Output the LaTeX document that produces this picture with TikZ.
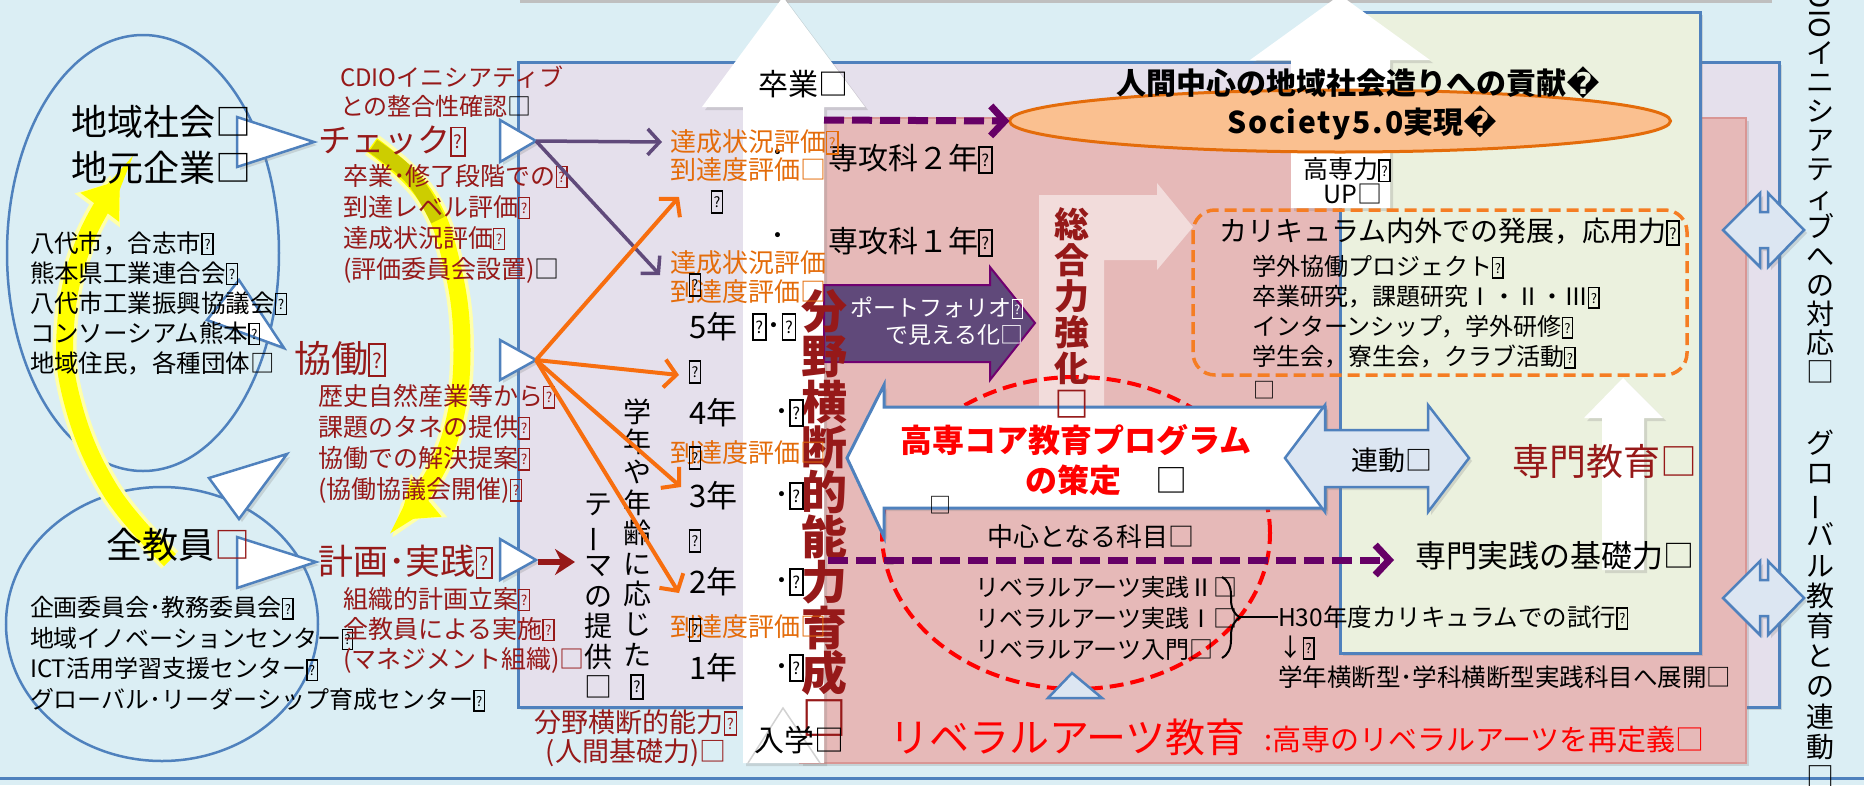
\documentclass[tikz,border=0pt]{standalone}
\usepackage{fontspec}
\usepackage{graphicx}
\setmainfont{Noto Sans CJK JP}
\newfontfamily\djv{DejaVu Sans}
\usetikzlibrary{arrows.meta,decorations.pathreplacing,shadows,shapes.geometric}
\definecolor{bgblue}{RGB}{219,238,244}
\definecolor{lav}{RGB}{229,224,236}
\definecolor{pinkbox}{RGB}{230,185,184}
\definecolor{pinkedge}{RGB}{217,150,148}
\definecolor{greenbox}{RGB}{235,241,222}
\definecolor{bord}{RGB}{79,129,189}
\definecolor{ellfill}{RGB}{250,192,144}
\definecolor{ellline}{RGB}{228,108,10}
\definecolor{dred}{RGB}{150,25,25}
\definecolor{otext}{RGB}{228,108,10}
\definecolor{oarrow}{RGB}{247,110,15}
\definecolor{parrow}{RGB}{96,74,123}
\definecolor{pdash}{RGB}{102,0,102}
\definecolor{pfill}{RGB}{96,73,122}
\definecolor{pedge}{RGB}{112,0,112}
\definecolor{lpink}{RGB}{242,220,219}
\definecolor{lblue}{RGB}{220,230,242}
\definecolor{yel}{RGB}{255,255,0}
\definecolor{yelglow}{RGB}{255,255,170}
\definecolor{yelshade}{RGB}{205,205,0}
\definecolor{odash}{RGB}{245,125,35}
\newcommand\fs[2]{\fontsize{#1}{#2}\selectfont}
\newcommand\qb{{\fboxsep=0pt\fboxrule=0.055em\raisebox{-0.04em}{\fbox{\makebox[0.38em]{\rule[-0.04em]{0pt}{0.8em}\raisebox{0.14em}{\scalebox{0.55}{?}}}}}}}
\newcommand\vbar{\rotatebox[origin=c]{90}{ー}}
\begin{document}
\begin{tikzpicture}[x=1pt,y=-1pt,
  every node/.style={inner sep=0pt,outer sep=0pt},
  tri/.style={draw=bord, fill=white, line width=2.5pt, line join=miter},
  bluebox/.style={draw=bord, line width=3pt},
  lt/.style={anchor=west, align=left},
  vt/.style={align=center},
  parr/.style={draw=parrow, line width=3.5pt, -{Straight Barb[length=12pt,width=26pt]}},
  oarr/.style={draw=oarrow, line width=4pt, -{Straight Barb[length=12pt,width=28pt]}},
  pdarr/.style={draw=pdash, line width=7pt, dash pattern=on 20pt off 8pt, -{Straight Barb[length=14pt,width=30pt]}},
  yglow/.style={draw=yelglow, line width=24pt, -{Triangle[length=38pt,width=54pt]}},
  ymain/.style={draw=yel, line width=17pt, -{Triangle[length=34pt,width=46pt]}},
  shade/.style={drop shadow={shadow xshift=3pt, shadow yshift=-3pt, opacity=0.25}}
]
\fill[bgblue] (0,0) rectangle (1864,785);
\useasboundingbox (0,0) rectangle (1864,785);
\draw[bord, line width=3pt] (0,778) -- (1864,778);
\fill[gray!50] (520,0) rectangle (1772,3);

% left ellipse and circle
\node[ellipse, draw=bord, line width=2.5pt, minimum width=272pt, minimum height=436pt] (ell) at (143,253) {};
\node[ellipse, draw=bord, line width=2.5pt, minimum width=312pt, minimum height=274pt] (circ) at (162,624) {};

% yellow arrows
\draw[yglow] plot[smooth, tension=0.7] coordinates {(170,560) (110,490) (72,400) (66,320) (85,240) (120,180)};
\draw[ymain] plot[smooth, tension=0.7] coordinates {(170,560) (110,490) (72,400) (66,320) (85,240) (120,180)};
\draw[yglow] plot[smooth, tension=0.7] coordinates {(372,145) (425,195) (452,265) (462,350) (452,430) (425,490) (400,520)};
\draw[ymain] plot[smooth, tension=0.7] coordinates {(372,145) (425,195) (452,265) (462,350) (452,430) (425,490) (400,520)};
\draw[yelshade, line width=15pt] plot[smooth, tension=0.7] coordinates {(373,146) (412,178) (438,220)};

% boxes
\draw[bluebox, fill=lav, shade] (518,62) rectangle (1779,707);
\filldraw[fill=pinkbox, draw=pinkedge, line width=1.5pt, shade] (800,118) rectangle (1746,763);
\draw[bluebox, fill=greenbox, shade] (1340,12) rectangle (1700,653);

% bent arrow behind 総合力強化
\fill[lpink] (1039,420) -- (1039,195) -- (1157,195) -- (1157,183) -- (1193,227) -- (1157,270) -- (1157,260) -- (1104,260) -- (1104,420) -- cycle;

% spine arrow
\fill[white, shade] (743,763) -- (743,107) -- (702,107) -- (783,-3) -- (865,107) -- (824,107) -- (824,763) -- cycle;
\draw[gray!35, line width=1.5pt] (748,763) -- (783,708) -- (820,763);

% 高専力UP arrow
\fill[white, shade] (1291,208) -- (1291,60) -- (1250,60) -- (1340,-5) -- (1430,60) -- (1390,60) -- (1390,208) -- cycle;

% orange ellipse
\node[ellipse, draw=ellline, fill=ellfill, line width=3pt, minimum width=661pt, minimum height=62pt] (soc) at (1340,121) {};

% dashed rounded box
\draw[odash, line width=3.5pt, dash pattern=on 12pt off 6pt, rounded corners=22pt] (1193,210) rectangle (1687,375);

% white up arrow in green box
\fill[white, shade] (1602,570) -- (1602,418) -- (1584,418) -- (1623,378) -- (1663,418) -- (1644,418) -- (1644,570) -- cycle;

% red dashed circle
\node[ellipse, draw=red, line width=4pt, dash pattern=on 14pt off 7pt, minimum width=388pt, minimum height=312pt] (core) at (1076,533) {};

% portfolio arrow
\filldraw[fill=pfill, draw=pedge, line width=2pt] (824,285) -- (990,285) -- (990,267) -- (1035,323) -- (990,380) -- (990,362) -- (824,362) -- cycle;

% 高専コア arrow
\draw[tri, line width=3pt, shade] (847,458) -- (884,385) -- (884,407) -- (1325,407) -- (1325,508) -- (884,508) -- (884,537) -- cycle;

% 連動 arrow
\draw[tri, fill=lblue, shade] (1285,458) -- (1325,405) -- (1325,430) -- (1428,430) -- (1428,405) -- (1469,458) -- (1428,512) -- (1428,487) -- (1325,487) -- (1325,512) -- cycle;

% right double arrows
\draw[tri, fill=lblue, shade] (1723,230) -- (1760,193) -- (1760,212) -- (1768,212) -- (1768,193) -- (1804,230) -- (1768,267) -- (1768,248) -- (1760,248) -- (1760,267) -- cycle;
\draw[tri, fill=lblue, shade] (1723,598) -- (1760,561) -- (1760,580) -- (1768,580) -- (1768,561) -- (1804,598) -- (1768,635) -- (1768,616) -- (1760,616) -- (1760,635) -- cycle;

% small triangle under circle
\draw[tri, fill=lblue] (1072,673) -- (1102,698) -- (1048,698) -- cycle;

% process triangles
\draw[tri, shade] (237,117) -- (237,167) -- (314,142) -- cycle;
\draw[tri, shade] (239,280) -- (207,320) -- (284,348) -- cycle;
\draw[tri, shade] (209,478) -- (287,454) -- (239,519) -- cycle;
\draw[tri, shade] (237,537) -- (237,588) -- (316,562) -- cycle;
\draw[tri, shade] (500,120) -- (500,162) -- (536,141) -- cycle;
\draw[tri, shade] (500,340) -- (500,380) -- (536,360) -- cycle;
\draw[tri, shade] (500,539) -- (500,580) -- (536,560) -- cycle;

% ---------- texts ----------
\node[font=\fs{36}{40}] (chiiki) at (161,122) {地域社会□};
\node[font=\fs{36}{40}] (jimoto) at (161,168) {地元企業□};
\node[lt, font=\fs{24.5}{30}] (elist) at (30,303) {八代市，合志市\qb\\熊本県工業連合会\qb\\八代市工業振興協議会\qb\\コンソーシアム熊本\qb\\地域住民，各種団体□};
\node[font=\fs{36}{40}] (zenkyo) at (178,545) {全教員{\color{dred}□}};
\node[lt, font=\fs{24}{30.7}] (clist) at (30,654) {企画委員会･教務委員会\qb\\地域イノベーションセンター\qb\\ICT活用学習支援センター\qb\\グローバル･リーダーシップ育成センター\qb};

\node[lt, text=dred, font=\fs{24}{29}] (cdiochk) at (340,91.5) {CDIOイニシアティブ\\との整合性確認{\color{black}□}};
\node[anchor=west, text=dred, font=\fs{33}{36}] (check) at (318,141) {チェック\qb};
\node[lt, text=dred, font=\fs{25}{31}] (chksub) at (343,223.5) {卒業･修了段階での\qb\\到達レベル評価\qb\\達成状況評価\qb\\(評価委員会設置){\color{black}□}};
\node[anchor=west, text=dred, font=\fs{37}{40}] (kyodo) at (294,359) {協働\qb};
\node[lt, text=dred, font=\fs{25}{31}] (kyosub) at (318,443.5) {歴史自然産業等から\qb\\課題のタネの提供\qb\\協働での解決提案\qb\\(協働協議会開催)\qb};
\node[anchor=west, text=dred, font=\fs{35}{40}] (keikaku) at (318,562) {計画･実践\qb};
\node[lt, text=dred, font=\fs{25}{30}] (keisub) at (343,630) {組織的計画立案\qb\\全教員による実施\qb\\(マネジメント組織)□};
\node[vt, text=dred, font=\fs{27}{29}] (bunya) at (636,738) {分野横断的能力\qb\\(人間基礎力)□};

% vertical texts
\node[vt, font=\fs{28}{30.4}] (gakunen) at (637,549) {学\\年\\や\\年\\齢\\に\\応\\じ\\た\\\qb};
\node[vt, font=\fs{28}{30.5}] (theme) at (598,596) {テ\\\vbar\\マ\\の\\提\\供\\□};
\node[vt, text=dred, font=\bfseries\fs{46}{45.2}] (spine) at (824,513) {分\\野\\横\\断\\的\\能\\力\\育\\成\\□};
\node[vt, text=dred, font=\bfseries\fs{35}{36}] (sogo) at (1072,313) {総\\合\\力\\強\\化\\□};
\node[vt, font=\fs{28}{29}] (cdio) at (1820,212) {イ\\ニ\\シ\\ア\\テ\\ィ\\ブ\\へ\\の\\対\\応\\□};
\node[font=\fs{28}{30}, rotate=-90, anchor=east] (cdiolat) at (1820,38) {CDIO};
\node[vt, font=\fs{28}{30.2}] (glob) at (1820,609) {グ\\ロ\\\vbar\\バ\\ル\\教\\育\\と\\の\\連\\動\\□};

% year column
\node[font=\fs{30}{34}] (sotsu) at (803,84) {卒業□};
\node[font=\fs{30}{34}] (nyu) at (799,740) {入学□};
\node[font=\fs{30}{34}] at (778,157) {･};
\node[font=\fs{30}{34}] at (778,240) {･};
\node[anchor=west, font=\fs{30}{34}] (sen2) at (828,159) {専攻科２年\qb};
\node[anchor=west, font=\fs{30}{34}] (sen1) at (828,242) {専攻科１年\qb};
\node[anchor=west, text=otext, font=\fs{26}{28}] (ev1a) at (670,142) {達成状況評価\qb};
\node[anchor=west, text=otext, font=\fs{26}{28}] (ev1b) at (670,170) {到達度評価□};
\node[font=\fs{26}{28}] at (717,202) {\qb};
\node[anchor=west, text=otext, font=\fs{26}{28}] (ev2a) at (670,263) {達成状況評価};
\node[anchor=west, text=otext, font=\fs{26}{28}] (ev2b) at (670,292) {到達度評価□};
\node[font=\fs{26}{28}] at (695,285) {\qb};
\node[anchor=west, font=\fs{31}{34}] (y5) at (689,327) {5年};
\node[anchor=west, font=\fs{30}{34}] at (752,327) {\qb･\qb};
\node[font=\fs{26}{28}] at (695,372) {\qb};
\node[anchor=west, font=\fs{31}{34}] (y4) at (689,413) {4年};
\node[anchor=west, font=\fs{30}{34}] at (774,413) {･\qb};
\node[anchor=west, text=otext, font=\fs{26}{28}] (ev3) at (670,453) {到達度評価□};
\node[font=\fs{26}{28}] at (695,458) {\qb};
\node[anchor=west, font=\fs{31}{34}] (y3) at (689,496) {3年};
\node[anchor=west, font=\fs{30}{34}] at (774,496) {･\qb};
\node[font=\fs{26}{28}] at (695,541) {\qb};
\node[anchor=west, font=\fs{31}{34}] (y2) at (689,582) {2年};
\node[anchor=west, font=\fs{30}{34}] at (774,582) {･\qb};
\node[anchor=west, text=otext, font=\fs{26}{28}] (ev4) at (670,627) {到達度評価□};
\node[font=\fs{26}{28}] at (695,630) {\qb};
\node[anchor=west, font=\fs{31}{34}] (y1) at (689,668) {1年};
\node[anchor=west, font=\fs{30}{34}] at (774,668) {･\qb};

% central / right texts
\node[font=\bfseries\fs{30}{34}] (contrib) at (1358,83) {人間中心の地域社会造りへの貢献{\djv �}};
\node[font=\bfseries\fs{30}{34}] (soc5) at (1362,123) {{\addfontfeature{LetterSpace=6}Society5.0}実現{\djv �}};
\node[font=\fs{25}{28}] (kup1) at (1347,170) {高専力\qb};
\node[font=\fs{25}{28}] (kup2) at (1353,194) {UP□};
\node[anchor=west, font=\fs{28}{32}] (curr) at (1219,232) {カリキュラム内外での発展，応用力\qb};
\node[lt, font=\fs{24}{30}] (items) at (1252,312) {学外協働プロジェクト\qb\\卒業研究，課題研究Ⅰ・Ⅱ・Ⅲ\qb\\インターンシップ，学外研修\qb\\学生会，寮生会，クラブ活動\qb};
\node[font=\fs{22}{24}] at (1264,390) {□};
\node[anchor=east, align=right, text=white, font=\fs{23}{27}] (port) at (1023,321) {ポートフォリオ\qb\\で見える化□};
\node[text=red, font=\bfseries\fs{32}{40}] (core1) at (1076,440) {高専コア教育プログラム};
\node[anchor=west, text=red, font=\bfseries\fs{32}{40}] (core2) at (1025,480) {の策定};
\node[font=\fs{32}{36}] at (1171,480) {□};
\node[font=\fs{22}{24}] at (940,505) {□};
\node[font=\fs{9}{10}] at (890,561) {□};
\node[font=\fs{27}{30}] (rendo) at (1392,460) {連動□};
\node[text=dred, font=\fs{37}{40}] (senmon) at (1605,461) {専門教育□};
\node[font=\fs{31}{34}] (kiso) at (1555,556) {専門実践の基礎力□};
\node[font=\fs{26}{30}] (chushin) at (1091,537) {中心となる科目□};
\node[lt, font=\fs{24}{31}] (lalist) at (975,618) {リベラルアーツ実践Ⅱ□\\リベラルアーツ実践Ⅰ□\\リベラルアーツ入門□};
\node[lt, font=\fs{24.5}{30}] (h30) at (1278,647) {H30年度カリキュラムでの試行\qb\\↓\qb\\学年横断型･学科横断型実践科目へ展開□};
\node[anchor=west, text=red, font=\fs{40}{44}] (latitle) at (889,737) {リベラルアーツ教育};
\node[anchor=west, text=red, font=\fs{29}{32}] (ladef) at (1264,740) {:高専のリベラルアーツを再定義□};

% brace
\draw[line width=2pt, decorate, decoration={brace, amplitude=18pt}] (1222,577) -- (1222,658);
\coordinate (brtip) at (1240,617);
\draw[line width=2pt] (brtip) -- (h30.west |- brtip);

% ---------- connectors ----------
\coordinate (chkT) at (536,141);
\coordinate (kyoT) at (536,360);
\coordinate (keiT) at (538,562);
\coordinate (ev2tip) at (660,275);
\coordinate (oA) at (679,197);
\coordinate (oB) at (679,375);
\coordinate (oC) at (681,487);
\coordinate (oD) at (679,593);
\coordinate (themeArr) at (575,562);
\coordinate (d1s) at (824,120);
\coordinate (d2s) at (828,560);
\coordinate (d2e) at (1394,560);
\draw[parr] (chkT) -- ([xshift=-8pt]ev1a.west);
\draw[parr] (chkT) -- (ev2tip);
\draw[oarr] (kyoT) -- (oA);
\draw[oarr] (kyoT) -- (oB);
\draw[oarr] (kyoT) -- (oC);
\draw[oarr] (kyoT) -- (oD);
\draw[draw=dred, line width=6pt, -{Stealth[length=20pt,width=26pt]}] (keiT) -- (themeArr);
\draw[pdarr] (d1s) -- (soc.west);
\draw[pdarr] (d2s) -- (d2e);
\end{tikzpicture}
\end{document}
